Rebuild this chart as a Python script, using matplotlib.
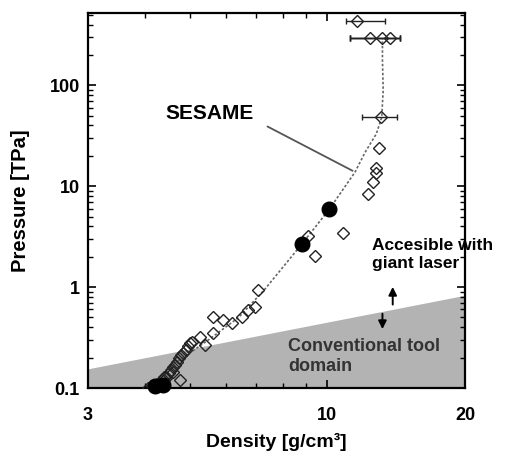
import matplotlib
matplotlib.use("Agg")
import matplotlib.pyplot as plt
import numpy as np

plt.rcParams['font.family'] = ['Liberation Sans', 'DejaVu Sans']
plt.rcParams['font.weight'] = 'bold'

# SESAME curve (density, pressure)
sesame_x = [4.05, 4.6, 5.5, 6.4, 7.3, 8.8, 10.1, 11.5, 12.1, 12.8, 13.15, 13.25, 13.2, 13.2]
sesame_y = [0.1, 0.17, 0.3, 0.5, 0.95, 2.67, 5.9, 13.8, 21.7, 33, 48, 90, 180, 290]

# open diamonds (data without error bars)
dia_x = [4.05, 4.15, 4.25, 4.35, 4.4, 4.45, 4.5, 4.55, 4.6, 4.6, 4.65, 4.7, 4.75, 4.8, 4.85, 4.9, 4.95, 5.0,
         4.77, 5.06, 5.41, 5.63, 5.27, 5.63, 5.92, 6.2, 6.5, 6.71, 6.95, 7.06,
         9.06, 9.4, 10.8, 12.3, 12.6, 12.8, 12.8, 12.97]
dia_y = [0.1, 0.105, 0.11, 0.12, 0.13, 0.125, 0.14, 0.15, 0.16, 0.145, 0.17, 0.18, 0.2, 0.21, 0.22, 0.24, 0.26, 0.28,
         0.12, 0.285, 0.267, 0.35, 0.32, 0.505, 0.47, 0.44, 0.505, 0.59, 0.63, 0.93,
         3.2, 2.03, 3.43, 8.3, 10.9, 13.4, 15.1, 23.8]

# diamonds with horizontal error bars
err_x = [11.6, 12.4, 13.2, 13.7, 13.1]
err_y = [430, 294, 294, 294, 48]
err_lo = [10.97, 11.2, 11.2, 11.2, 11.9]
err_hi = [13.4, 14.4, 14.4, 14.4, 14.2]

# filled circles
fill_x = [8.8, 10.1, 4.2, 4.37]
fill_y = [2.67, 5.9, 0.104, 0.106]

# conventional tool domain boundary
dom_x = [3, 20]
dom_y = [0.155, 0.83]

fig = plt.figure(figsize=(5.09, 4.58), dpi=100)
ax = fig.add_axes([0.1729, 0.1528, 0.7407, 0.8188])
ax.set_xscale('log')
ax.set_yscale('log')
ax.set_xlim(3, 20)
ax.set_ylim(0.1, 520)

ax.fill_between(dom_x, [0.1, 0.1], dom_y, color='#b3b3b3', lw=0, zorder=1)

ax.plot(sesame_x, sesame_y, color='#666666', lw=1.2, ls=(0, (1.5, 1.2)), zorder=2)

ax.plot(dia_x, dia_y, ls='none', marker='D', ms=6.5, mfc='none', mec='#222222', mew=1.0, zorder=3)

xlo = np.array(err_x) - np.array(err_lo)
xhi = np.array(err_hi) - np.array(err_x)
ax.errorbar(err_x, err_y, xerr=[xlo, xhi], fmt='D', ms=6.5, mfc='none', mec='#222222', mew=1.0,
            ecolor='#222222', elinewidth=1.0, capsize=2.5, zorder=3)

ax.plot(fill_x, fill_y, ls='none', marker='o', ms=10.5, color='black', zorder=4, clip_on=False)

ax.set_xticks([3, 10, 20])
ax.set_xticklabels(['3', '10', '20'])
ax.set_yticks([0.1, 1, 10, 100])
ax.set_yticklabels(['0.1', '1', '10', '100'])
ax.xaxis.set_minor_locator(matplotlib.ticker.LogLocator(base=10, subs=np.arange(2, 10)))
ax.xaxis.set_minor_formatter(matplotlib.ticker.NullFormatter())
ax.tick_params(which='both', direction='in', top=True, right=True, labelsize=13)
ax.tick_params(which='major', length=6, width=1.2)
ax.tick_params(which='minor', length=3.5, width=1.0)
ax.tick_params(axis='x', which='major', pad=14)
ax.tick_params(axis='y', which='major', pad=6)
for s in ax.spines.values():
    s.set_linewidth(1.6)

ax.set_xlabel('Density [g/cm³]', fontsize=14, fontweight='bold', labelpad=6)
ax.set_ylabel('Pressure [TPa]', fontsize=14.5, fontweight='bold', labelpad=14)

ax.text(4.42, 52.8, 'SESAME', fontsize=15, fontweight='bold', va='center', ha='left')
ax.annotate('', xy=(11.5, 13.8), xytext=(7.31, 40.2), arrowprops=dict(arrowstyle='-', color='#555555', lw=1.3))

ax.text(12.5, 2.09, 'Accesible with\ngiant laser', fontsize=12.5, fontweight='bold', va='center', ha='left',
        linespacing=1.25)
ax.annotate('', xy=(13.9, 1.07), xytext=(13.9, 0.63),
            arrowprops=dict(arrowstyle='-|>', color='black', lw=1.4, mutation_scale=12))
ax.annotate('', xy=(13.2, 0.36), xytext=(13.2, 0.58),
            arrowprops=dict(arrowstyle='-|>', color='black', lw=1.4, mutation_scale=12))
ax.text(8.2, 0.207, 'Conventional tool\ndomain', fontsize=13, fontweight='bold', va='center', ha='left',
        linespacing=1.25, color='#333333')

fig.savefig('out.png', dpi=100)
